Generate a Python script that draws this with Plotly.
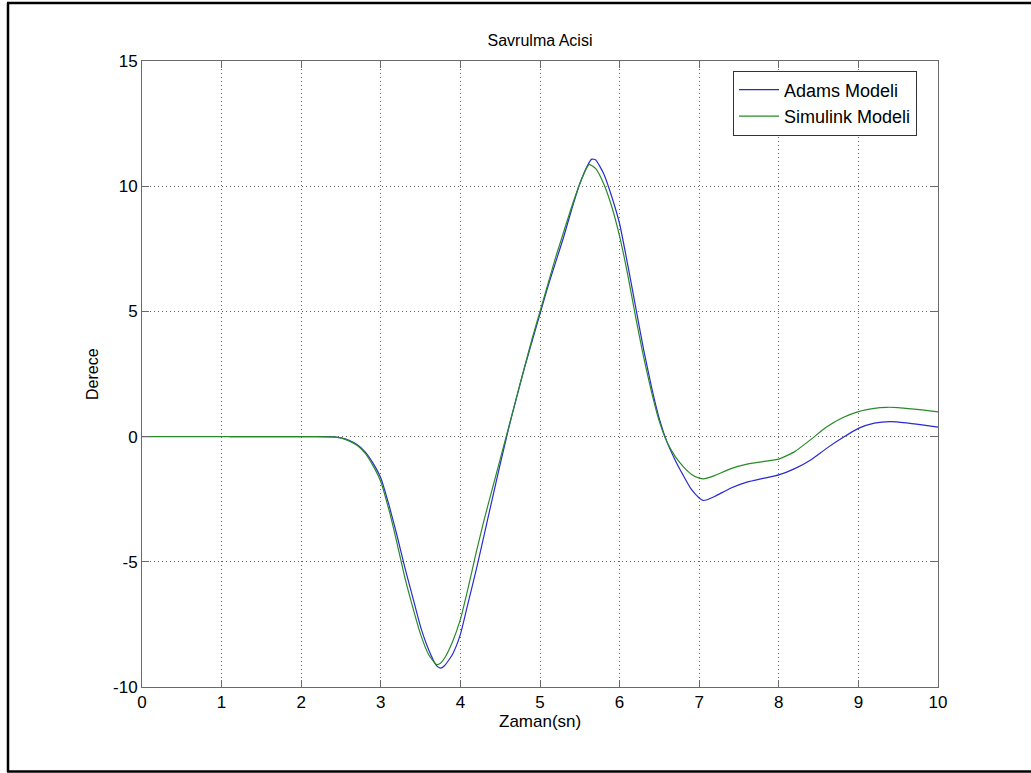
import plotly.graph_objects as go

# Adams Modeli (blue)
t_adams = [1.1, 1.6, 2.0, 2.2, 2.4, 2.5, 2.6, 2.7, 2.8, 2.9, 3.0, 3.1, 3.2, 3.3, 3.4, 3.5, 3.6, 3.7, 3.75, 3.8,
           3.9, 4.0, 4.1, 4.2, 4.3, 4.4, 4.5, 4.6, 4.7, 4.8, 4.9, 5.0, 5.1, 5.2, 5.3, 5.4, 5.5, 5.6,
           5.65, 5.7, 5.8, 5.9, 6.0, 6.1, 6.2, 6.3, 6.4, 6.5, 6.6, 6.7, 6.8, 6.9, 7.0, 7.05, 7.1,
           7.2, 7.4, 7.6, 7.8, 8.0, 8.2, 8.4, 8.6, 8.8, 9.0, 9.2, 9.4, 9.6, 9.8, 10.0]
y_adams = [0.0, 0.0, 0.0, 0.0, -0.01, -0.05, -0.15, -0.32, -0.6, -1.05, -1.65, -2.7, -3.9, -5.2, -6.4, -7.6, -8.5,
           -9.15, -9.25, -9.15, -8.7, -7.9, -6.6, -5.3, -3.9, -2.5, -1.1, 0.25, 1.5, 2.7, 3.8, 4.9,
           6.0, 7.0, 8.0, 9.1, 10.1, 10.85, 11.08, 11.05, 10.5, 9.6, 8.5, 6.9, 5.2, 3.5, 2.0, 0.7,
           -0.25, -0.95, -1.55, -2.1, -2.45, -2.55, -2.52, -2.38, -2.05, -1.82, -1.67, -1.53, -1.28,
           -0.93, -0.47, -0.05, 0.33, 0.54, 0.6, 0.55, 0.47, 0.38]

# Simulink Modeli (green)
t_sim = [0.0, 1.0, 2.0, 2.2, 2.4, 2.5, 2.6, 2.7, 2.8, 2.9, 3.0, 3.1, 3.2, 3.3, 3.4, 3.5, 3.6, 3.7, 3.75,
         3.8, 3.9, 4.0, 4.1, 4.2, 4.3, 4.4, 4.5, 4.6, 4.7, 4.8, 4.9, 5.0, 5.1, 5.2, 5.3, 5.4, 5.5,
         5.6, 5.62, 5.7, 5.8, 5.9, 6.0, 6.1, 6.2, 6.3, 6.4, 6.5, 6.6, 6.7, 6.8, 6.9, 7.0, 7.05,
         7.1, 7.2, 7.4, 7.6, 7.8, 8.0, 8.2, 8.4, 8.6, 8.8, 9.0, 9.2, 9.35, 9.5, 9.7, 9.9, 10.0]
y_sim = [0.0, 0.0, 0.0, 0.0, -0.01, -0.05, -0.17, -0.35, -0.65, -1.15, -1.8, -2.9, -4.2, -5.6, -6.8, -7.9,
         -8.7, -9.1, -9.05, -8.85, -8.2, -7.3, -6.0, -4.6, -3.3, -2.1, -0.9, 0.3, 1.5, 2.7, 3.9,
         5.0, 6.1, 7.2, 8.2, 9.2, 10.1, 10.8, 10.87, 10.7, 10.1, 9.2, 8.0, 6.5, 4.8, 3.2, 1.8, 0.6,
         -0.25, -0.8, -1.2, -1.5, -1.66, -1.69, -1.66, -1.55, -1.28, -1.1, -1.0, -0.9, -0.6,
         -0.12, 0.38, 0.75, 1.0, 1.13, 1.17, 1.16, 1.1, 1.03, 0.99]

x_ticks = [0, 1, 2, 3, 4, 5, 6, 7, 8, 9, 10]
y_ticks = [-10, -5, 0, 5, 10, 15]

FONT = "Liberation Sans, Arial, sans-serif"

fig = go.Figure()
fig.add_trace(go.Scatter(x=t_adams, y=y_adams, mode="lines", name="Adams Modeli",
                         line=dict(color="#2a2ad0", width=1.2, shape="spline", smoothing=0.5)))
fig.add_trace(go.Scatter(x=t_sim, y=y_sim, mode="lines", name="Simulink Modeli",
                         line=dict(color="#2a8a2a", width=1.2, shape="spline", smoothing=0.5)))

axis_common = dict(showline=True, linecolor="#6a6a6a", linewidth=1, mirror="ticks",
                   ticks="inside", ticklen=7, tickcolor="#6a6a6a",
                   showgrid=True, gridcolor="#666666", griddash="1px,3px", gridwidth=1,
                   zeroline=False, tickfont=dict(family=FONT, size=17, color="black"))

fig.update_xaxes(range=[0, 10], tickvals=x_ticks, ticktext=[str(v) for v in x_ticks], **axis_common)
fig.update_yaxes(range=[-10, 15], tickvals=y_ticks, ticktext=[str(v) for v in y_ticks], **axis_common)

L, T, W, H = 142, 61, 796, 626


def px(x):
    return (x - L) / W


def py(y):
    return (T + H - y) / H


fig.update_layout(
    width=1031, height=773,
    margin=dict(l=142, r=93, t=61, b=86),
    paper_bgcolor="white", plot_bgcolor="white",
    showlegend=True,
    legend=dict(x=px(733), y=py(70.5), xanchor="left", yanchor="top",
                bgcolor="white", bordercolor="#333333", borderwidth=1,
                font=dict(family=FONT, size=18, color="black"),
                tracegroupgap=0, itemwidth=40),
    title=dict(text="Savrulma Acisi", x=0.5, xref="paper", y=1 - 40 / 773, yanchor="middle",
               font=dict(family=FONT, size=16, color="black")),
    annotations=[
        dict(text="Zaman(sn)", x=0.5, y=py(721), xref="paper", yref="paper",
             showarrow=False, font=dict(family=FONT, size=17, color="black"),
             xanchor="center", yanchor="middle"),
        dict(text="Derece", x=px(92), y=py(374), xref="paper", yref="paper",
             showarrow=False, textangle=-90, font=dict(family=FONT, size=16, color="black"),
             xanchor="center", yanchor="middle"),
    ],
    shapes=[
        dict(type="line", xref="paper", yref="paper", x0=px(8), x1=px(8), y0=py(772), y1=py(3),
             line=dict(color="black", width=2.5), layer="above"),
        dict(type="line", xref="paper", yref="paper", x0=px(7), x1=px(1031), y0=py(3), y1=py(3),
             line=dict(color="black", width=2.5), layer="above"),
        dict(type="line", xref="paper", yref="paper", x0=px(7), x1=px(1031), y0=py(771.5), y1=py(771.5),
             line=dict(color="black", width=2.5), layer="above"),
    ],
)

fig.write_html("out.html")
